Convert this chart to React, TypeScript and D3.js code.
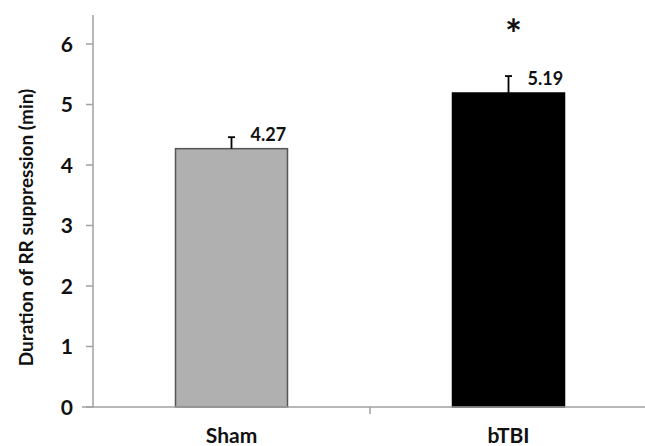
import React from "react";
import { scaleBand, scaleLinear } from "d3";

const groups = ["Sham", "bTBI"];
const means = [4.27, 5.19];
const errors = [0.19, 0.28];
const labels = ["4.27", "5.19"];
const fills = ["#b0b0b0", "#000000"];
const yTicks = [0, 1, 2, 3, 4, 5, 6];

const W = 645;
const H = 446;
const font = "Lato, 'Open Sans', sans-serif";

export default function App() {
  const x = scaleBand().domain(groups).range([93, 647]).paddingInner(0).paddingOuter(0);
  const y = scaleLinear().domain([0, 6]).range([407, 44]);
  const barW = 112;

  return (
    <svg width={W} height={H} style={{ position: "absolute", left: 0, top: 0, background: "#fff" }}>
      {/* y axis */}
      <line x1={93} x2={93} y1={15} y2={407} stroke="#a0a0a0" strokeWidth={1.5} />
      {yTicks.map(t => (
        <g key={t}>
          <line x1={86} x2={93} y1={y(t)} y2={y(t)} stroke="#a0a0a0" strokeWidth={1.5} />
          <text x={73} y={y(t)} dy="0.36em" textAnchor="end" fontFamily={font} fontWeight={700} fontSize={21} fill="#111">
            {t}
          </text>
        </g>
      ))}
      <text
        transform={`translate(33, ${y(3) + 2}) rotate(-90)`}
        textAnchor="middle"
        fontFamily={font}
        fontWeight={700}
        fontSize={19}
        fill="#111"
      >
        Duration of RR suppression (min)
      </text>

      {/* bars */}
      {groups.map((g, i) => {
        const cx = (x(g) as number) + x.bandwidth() / 2;
        return (
          <g key={g}>
            <rect
              x={cx - barW / 2}
              y={y(means[i])}
              width={barW}
              height={y(0) - y(means[i])}
              fill={fills[i]}
              stroke={i === 0 ? "#555" : "#000"}
              strokeWidth={1.5}
            />
            <line x1={cx} x2={cx} y1={y(means[i])} y2={y(means[i] + errors[i])} stroke="#000" strokeWidth={1.8} />
            <line x1={cx - 3.5} x2={cx + 3.5} y1={y(means[i] + errors[i])} y2={y(means[i] + errors[i])} stroke="#000" strokeWidth={1.8} />
            <text x={cx + 19} y={y(means[i]) - 8} fontFamily={font} fontWeight={700} fontSize={18} fill="#111">
              {labels[i]}
            </text>
            <text x={cx} y={443} textAnchor="middle" fontFamily={font} fontWeight={700} fontSize={21} fill="#111">
              {g}
            </text>
          </g>
        );
      })}

      {/* significance */}
      <text x={(x("bTBI") as number) + x.bandwidth() / 2 + 5} y={21} dy="0.7em" textAnchor="middle" fontFamily={font} fontWeight={700} fontSize={40} fill="#111">
        *
      </text>

      {/* x axis */}
      <line x1={82} x2={647} y1={407} y2={407} stroke="#a0a0a0" strokeWidth={1.5} />
      <line x1={x("bTBI") as number} x2={x("bTBI") as number} y1={407} y2={414} stroke="#a0a0a0" strokeWidth={1.5} />
    </svg>
  );
}
